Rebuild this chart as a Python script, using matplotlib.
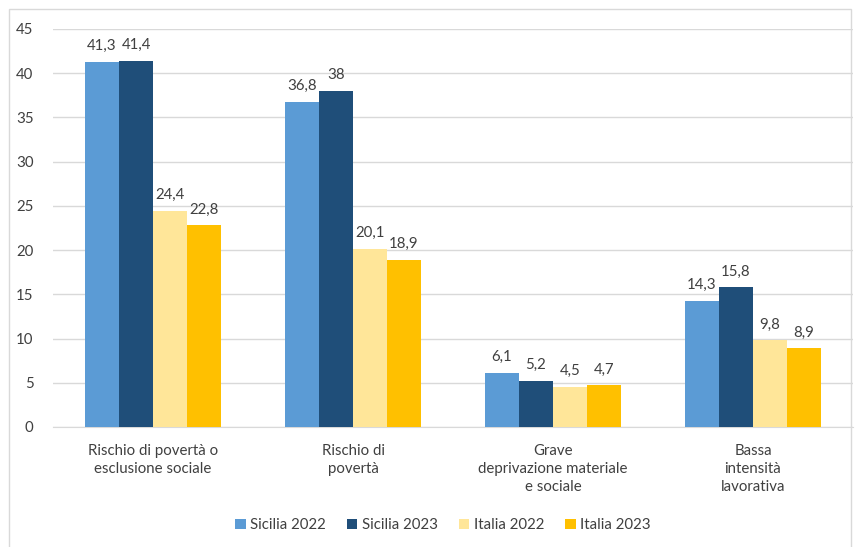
import matplotlib
matplotlib.use("Agg")
import matplotlib.pyplot as plt
import numpy as np
from matplotlib.patches import Rectangle

categories = ["Rischio di povertà o\nesclusione sociale", "Rischio di\npovertà",
              "Grave\ndeprivazione materiale\ne sociale", "Bassa\nintensità\nlavorativa"]
series_names = ["Sicilia 2022", "Sicilia 2023", "Italia 2022", "Italia 2023"]
sicilia_2022 = [41.3, 36.8, 6.1, 14.3]
sicilia_2023 = [41.4, 38.0, 5.2, 15.8]
italia_2022 = [24.4, 20.1, 4.5, 9.8]
italia_2023 = [22.8, 18.9, 4.7, 8.9]
colors = ["#5B9BD5", "#1F4E79", "#FFE699", "#FFC000"]

plt.rcParams['font.family'] = ['Lato', 'DejaVu Sans']
txt = "#404040"

fig = plt.figure(figsize=(8.59, 5.47), dpi=100)
ax = fig.add_axes([53/859, 1-427/547, 800/859, 398/547])
fig.patches.append(Rectangle((9/859, -0.01), 842/859, 1-9/547+0.01, transform=fig.transFigure,
                             fill=False, edgecolor="#D9D9D9", linewidth=1))

x = np.arange(len(categories))
w = 0.17
data = [sicilia_2022, sicilia_2023, italia_2022, italia_2023]
for i, (vals, name, c) in enumerate(zip(data, series_names, colors)):
    pos = x + (i - 1.5) * w
    bars = ax.bar(pos, vals, width=w, color=c, label=name, zorder=3)
    for p, v in zip(pos, vals):
        s = f"{v:g}".replace(".", ",")
        ax.text(p, v + 1.0, s, ha="center", va="bottom", fontsize=10.8, color=txt)

ax.set_xlim(-0.5, 3.5)
ax.set_ylim(0, 45)
ax.set_yticks(range(0, 46, 5))
ax.yaxis.grid(True, color="#D9D9D9", linewidth=1, zorder=0)
ax.set_axisbelow(True)
for s in ["top", "right", "left"]:
    ax.spines[s].set_visible(False)
ax.spines["bottom"].set_color("#D9D9D9")
ax.tick_params(axis="both", length=0, labelsize=10.8, labelcolor=txt)
ax.tick_params(axis="y", pad=14)
ax.tick_params(axis="x", pad=12)
ax.set_xticks(x)
ax.set_xticklabels(categories, linespacing=1.4)

fig.legend(loc="center", bbox_to_anchor=(443/859, 1-525/547), ncol=4, frameon=False,
           fontsize=10.8, handlelength=0.7, handleheight=0.7, handletextpad=0.3,
           columnspacing=1.4, labelcolor=txt)

fig.savefig("out.png", dpi=100)
